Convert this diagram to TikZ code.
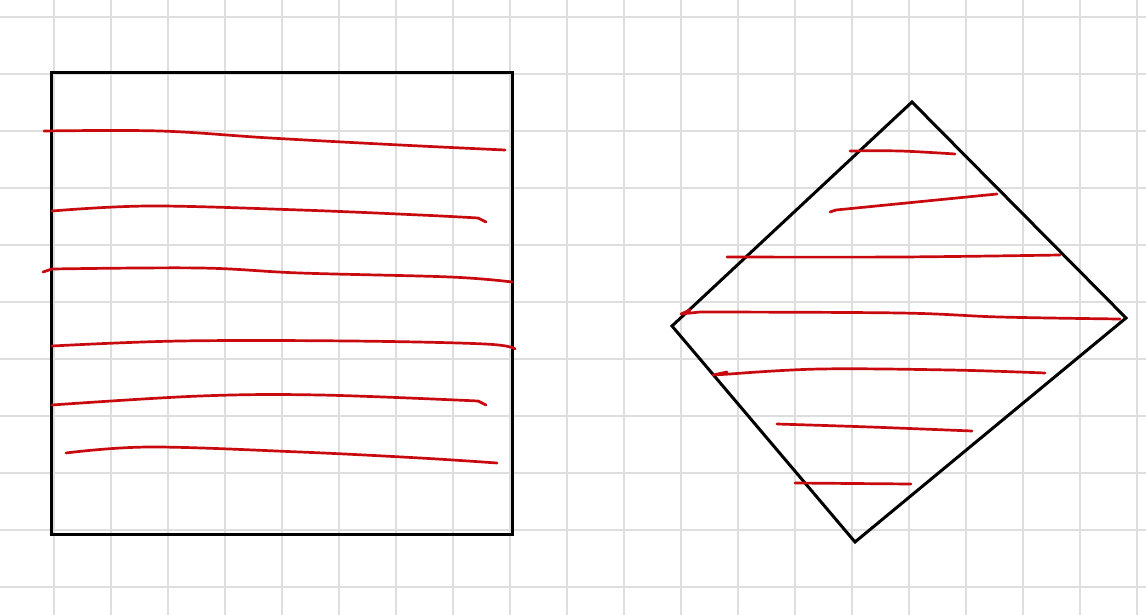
\documentclass[tikz,border=0pt]{standalone}
\begin{document}
\begin{tikzpicture}[x=0.5pt,y=-0.5pt,
  gridline/.style={line width=0.9pt,color=black!13},
  outline/.style={line width=1.5pt,black,line join=miter},
  stroke/.style={line width=1.35pt,color={rgb,255:red,200;green,10;blue,15},line cap=round,line join=round}]
\useasboundingbox (0,0) rectangle (1146,615);
\fill[white] (0,0) rectangle (1146,615);
\foreach \x in {54,111,...,1140} \draw[gridline] (\x,0) -- (\x,615);
\foreach \y in {17,74,...,615} \draw[gridline] (0,\y) -- (1146,\y);
% square
\draw[outline] (51,73) rectangle (512,534);
% diamond
\draw[outline] (912,102) -- (1126,318) -- (855,542) -- (672,326) -- cycle;
% red strokes in square
\draw[stroke] plot[smooth,tension=0.6] coordinates {(44,131) (160,131) (270,138) (400,145) (505,150)};
\draw[stroke] plot[smooth,tension=0.6] coordinates {(52,211) (150,206) (300,210) (420,215) (478,218)} -- (486,222);
\draw[stroke] (43,272) -- (52,269) plot[smooth,tension=0.6] coordinates {(52,269) (200,268) (300,273) (450,277) (512,282)};
\draw[stroke] plot[smooth,tension=0.6] coordinates {(52,346) (180,341) (350,341) (485,344) (515,349)};
\draw[stroke] plot[smooth,tension=0.6] coordinates {(52,405) (200,396) (320,395) (478,401)} -- (486,405);
\draw[stroke] plot[smooth,tension=0.6] coordinates {(66,453) (150,447) (300,452) (420,458) (497,463)};
% red strokes in diamond
\draw[stroke] plot[smooth,tension=0.6] coordinates {(850,151) (900,151) (955,154)};
\draw[stroke] (830,212) -- (836,210) -- (997,194);
\draw[stroke] plot[smooth,tension=0.6] coordinates {(727,257) (900,257) (1060,255)};
\draw[stroke] (690,310) -- (681,314) -- (700,312) plot[smooth,tension=0.6] coordinates {(700,312) (900,313) (1000,317) (1120,319)};
\draw[stroke] (727,372) -- (713,375) -- (730,374) plot[smooth,tension=0.6] coordinates {(730,374) (820,369) (950,370) (1045,373)};
\draw[stroke] plot[smooth,tension=0.6] coordinates {(777,424) (870,427) (972,431)};
\draw[stroke] plot[smooth,tension=0.6] coordinates {(795,483) (911,484)};
\end{tikzpicture}
\end{document}
